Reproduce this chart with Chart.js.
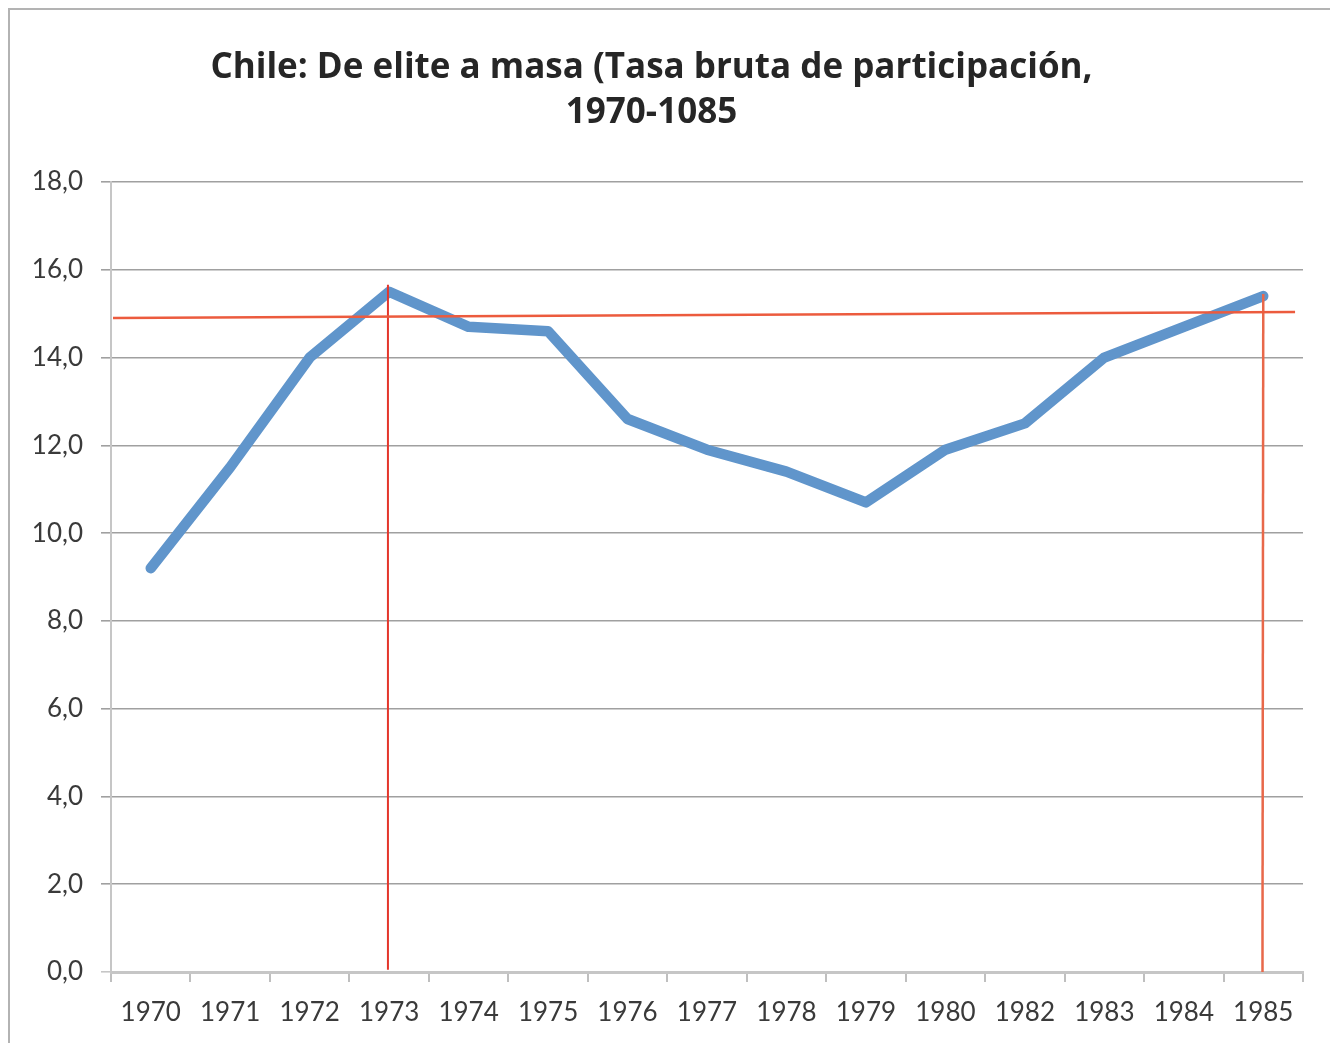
<!DOCTYPE html>
<html>
<head>
<meta charset="utf-8">
<script src="https://cdn.jsdelivr.net/npm/chart.js@4/dist/chart.umd.min.js"></script>
<style>
  html, body { margin: 0; padding: 0; background: #ffffff; overflow: hidden; }
  #wrap { position: absolute; left: 0; top: 0; width: 1330px; height: 1043px; }
</style>
</head>
<body>
<div id="wrap"><canvas id="c" width="1330" height="1043"></canvas></div>
<script>
// ---- data ----
const categories = ['1970','1971','1972','1973','1974','1975','1976','1977','1978','1979','1980','1982','1983','1984','1985'];
const tasaBruta = [9.2, 11.5, 14.0, 15.5, 14.7, 14.6, 12.6, 11.9, 11.4, 10.7, 11.9, 12.5, 14.0, 14.7, 15.4];
// hand-drawn red reference lines (x in category-index units)
const refHorizontal = [{x: -0.475, y: 14.9}, {x: 14.4, y: 15.04}];
const ref1973 = [{x: 2.985, y: 15.66}, {x: 2.985, y: 0.05}];
const ref1985 = [{x: 14.0, y: 15.45}, {x: 13.99, y: 0.0}];
const titleLines = ['Chile: De elite a masa (Tasa bruta de participación,', '1970-1085'];
const yMin = 0, yMax = 18, yStep = 2;

const TICK_FONT = 'Lato, "Open Sans", sans-serif';
const TITLE_FONT = '"Open Sans", Lato, sans-serif';

const frame = {
  id: 'frame',
  beforeDraw(chart) {
    const ctx = chart.ctx;
    ctx.save();
    ctx.fillStyle = '#ffffff';
    ctx.fillRect(0, 0, chart.width, chart.height);
    ctx.strokeStyle = '#b3b3b3';
    ctx.lineWidth = 2;
    ctx.beginPath();
    ctx.moveTo(9, chart.height + 5);
    ctx.lineTo(9, 9);
    ctx.lineTo(chart.width + 5, 9);
    ctx.stroke();
    ctx.restore();
  }
};

new Chart(document.getElementById('c'), {
  type: 'line',
  data: {
    labels: categories,
    datasets: [
      {
        label: 'Tasa bruta de participación',
        data: tasaBruta,
        xAxisID: 'x',
        borderColor: '#6095CB',
        borderWidth: 10.5,
        borderCapStyle: 'round',
        borderJoinStyle: 'round',
        pointRadius: 0,
        tension: 0,
        order: 2
      },
      {
        label: 'ref-h',
        data: refHorizontal,
        xAxisID: 'x2',
        borderColor: '#EC5B3E',
        borderWidth: 2.5,
        pointRadius: 0,
        tension: 0,
        clip: false,
        order: 1
      },
      {
        label: 'ref-1973',
        data: ref1973,
        xAxisID: 'x2',
        borderColor: '#E4362B',
        borderWidth: 2,
        pointRadius: 0,
        tension: 0,
        clip: false,
        order: 1
      },
      {
        label: 'ref-1985',
        data: ref1985,
        xAxisID: 'x2',
        borderColor: '#E8684A',
        borderWidth: 2.5,
        pointRadius: 0,
        tension: 0,
        clip: false,
        order: 1
      }
    ]
  },
  options: {
    responsive: false,
    animation: false,
    events: [],
    layout: { padding: { left: 0, right: 27, top: 0, bottom: 0 } },
    plugins: {
      legend: { display: false },
      tooltip: { enabled: false },
      title: {
        display: true,
        text: titleLines,
        color: '#262626',
        font: { family: TITLE_FONT, size: 35, weight: 'bold', lineHeight: 45 / 35 },
        padding: { top: 45.5, bottom: 46.5 }
      }
    },
    scales: {
      x: {
        type: 'category',
        offset: true,
        grid: {
          offset: true,
          drawOnChartArea: false,
          drawTicks: true,
          tickLength: 10,
          color: '#bfbfbf',
          lineWidth: 2
        },
        border: { display: true, color: '#c6c6c6', width: 3 },
        ticks: {
          color: '#3a3a3a',
          font: { family: TICK_FONT, size: 26 },
          padding: 15,
          maxRotation: 0,
          autoSkip: false
        },
        afterFit(scale) { scale.height = 71; }
      },
      x2: {
        type: 'linear',
        display: false,
        min: -0.5,
        max: categories.length - 0.5
      },
      y: {
        min: yMin,
        max: yMax,
        ticks: {
          stepSize: yStep,
          color: '#3a3a3a',
          font: { family: TICK_FONT, size: 26 },
          padding: 18,
          callback: (v) => Number(v).toFixed(1).replace('.', ',')
        },
        grid: {
          color: (c) => (c.tick && c.tick.value === 0 ? '#c6c6c6' : '#a0a0a0'),
          lineWidth: 1.6,
          tickLength: 10
        },
        border: { display: true, color: '#c6c6c6', width: 2 },
        afterFit(scale) { scale.width = 111; }
      }
    }
  },
  plugins: [frame]
});
</script>
</body>
</html>
